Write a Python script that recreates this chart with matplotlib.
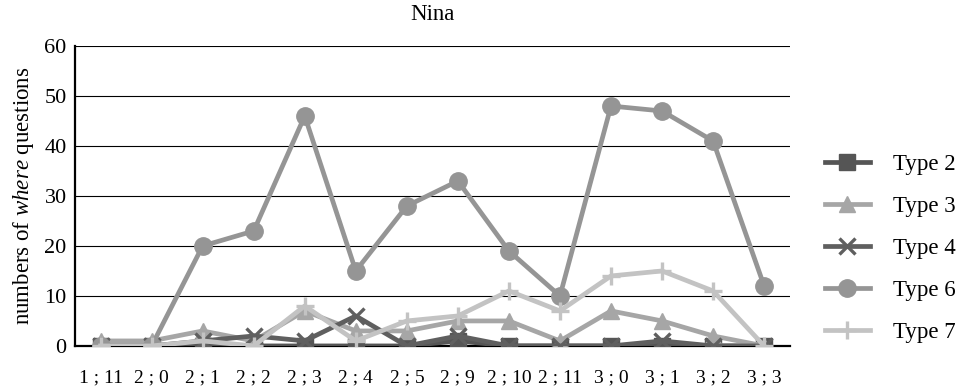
import numpy as np
import matplotlib
matplotlib.use("Agg")
import matplotlib.pyplot as plt

plt.rcParams['font.family'] = ['Liberation Serif', 'DejaVu Serif']
plt.rcParams['mathtext.fontset'] = 'custom'
plt.rcParams['mathtext.it'] = 'Liberation Serif:italic'
plt.rcParams['mathtext.rm'] = 'Liberation Serif'

# ages (year;month)
ages = ['1 ; 11', '2 ; 0', '2 ; 1', '2 ; 2', '2 ; 3', '2 ; 4', '2 ; 5',
        '2 ; 9', '2 ; 10', '2 ; 11', '3 ; 0', '3 ; 1', '3 ; 2', '3 ; 3']

type2 = [0, 0, 0, 0, 0, 0, 0, 1, 0, 0, 0, 0, 0, 0]
type3 = [1, 1, 3, 1, 7, 3, 3, 5, 5, 1, 7, 5, 2, 0]
type4 = [0, 0, 1, 2, 1, 6, 0, 2, 0, 0, 0, 1, 0, 0]
type6 = [0, 0, 20, 23, 46, 15, 28, 33, 19, 10, 48, 47, 41, 12]
type7 = [0, 0, 1, 0, 8, 1, 5, 6, 11, 7, 14, 15, 11, 0]

x = np.arange(len(ages))

fig = plt.figure(figsize=(9.67, 3.9), dpi=100)
ax = fig.add_axes([0.0776, 0.113, 0.739, 0.769])

lw = 3.4
ax.plot(x, type2, color='#555555', lw=lw, marker='s', ms=11.5, label='Type 2', zorder=3)
ax.plot(x, type3, color='#a6a6a6', lw=lw, marker='^', ms=12, label='Type 3', zorder=3)
ax.plot(x, type4, color='#5f5f5f', lw=lw, marker='x', ms=11, mew=2.4, label='Type 4', zorder=3)
ax.plot(x, type6, color='#959595', lw=lw, marker='o', ms=12.5, label='Type 6', zorder=3)
ax.plot(x, type7, color='#c3c3c3', lw=lw, marker='+', ms=13, mew=2.4, label='Type 7', zorder=3)

ax.set_xlim(-0.5, len(ages) - 0.5)
ax.set_ylim(0, 60)
ax.set_yticks(range(0, 61, 10))
ax.set_xticks(x)
ax.set_xticklabels(ages)
ax.tick_params(axis='x', length=0, labelsize=14, pad=17)
ax.tick_params(axis='y', length=0, labelsize=16, pad=6)

ax.grid(axis='y', color='black', lw=0.8)
ax.set_axisbelow(True)
for s in ['top', 'right']:
    ax.spines[s].set_visible(False)
ax.spines['left'].set_linewidth(1.6)
ax.spines['bottom'].set_linewidth(1.6)

ax.set_title('Nina', fontsize=16.5, pad=19)
ax.set_ylabel(r'numbers of $\it{where}$ questions', fontsize=16.5, labelpad=6)

ax.legend(loc='center left', bbox_to_anchor=(1.02, 0.325), frameon=False,
          fontsize=16.5, handlelength=2.0, handletextpad=1.0, labelspacing=0.92)

fig.savefig('out.png', dpi=100)
